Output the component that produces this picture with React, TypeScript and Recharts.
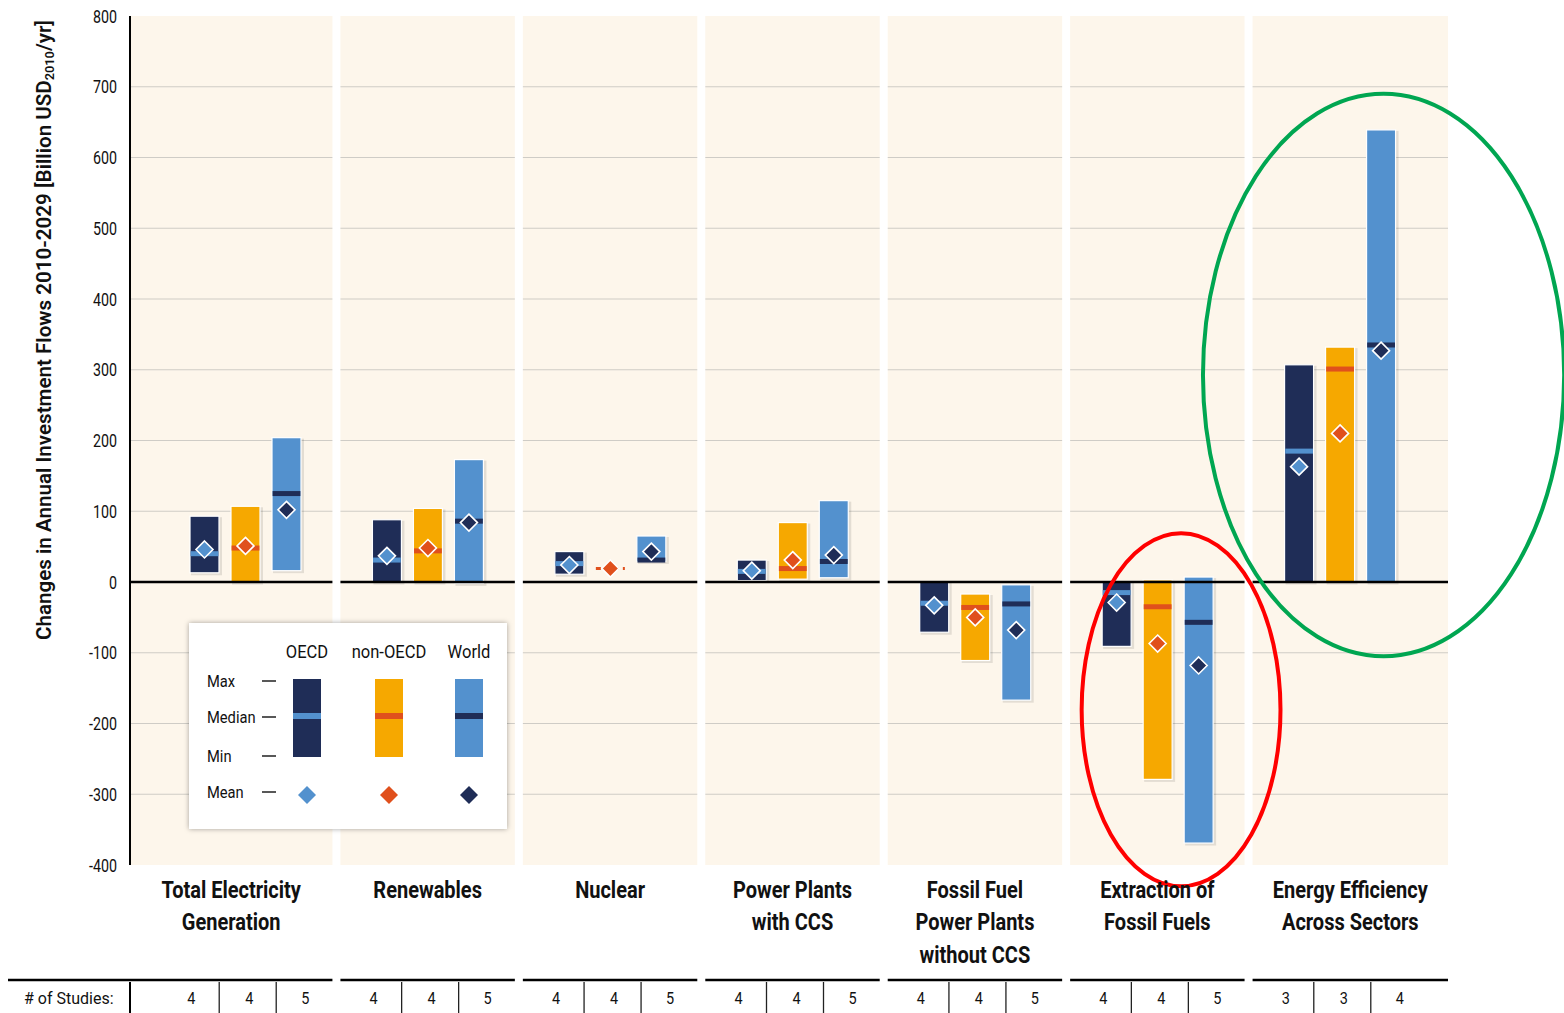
import React from 'react';
import {
  ComposedChart,
  Bar,
  XAxis,
  YAxis,
  CartesianGrid,
  ReferenceLine,
  Legend,
} from 'recharts';

const FONT = "Roboto, 'Noto Sans', 'DejaVu Sans', sans-serif";

// ---- data -------------------------------------------------------------
const categories = [
  'Total Electricity Generation',
  'Renewables',
  'Nuclear',
  'Power Plants with CCS',
  'Fossil Fuel Power Plants without CCS',
  'Extraction of Fossil Fuels',
  'Energy Efficiency Across Sectors',
];
const categoryLines = [
  ['Total Electricity', 'Generation'],
  ['Renewables'],
  ['Nuclear'],
  ['Power Plants', 'with CCS'],
  ['Fossil Fuel', 'Power Plants', 'without CCS'],
  ['Extraction of', 'Fossil Fuels'],
  ['Energy Efficiency', 'Across Sectors'],
];

const oecdMin = [13, 0, 11, 2, -71, -91, 0];
const oecdMax = [93, 88, 43, 31, 0, 0, 307];
const oecdMedian = [40, 31, 26, 15, -30, -15, 185];
const oecdMean = [46, 37, 24, 16, -33, -29, 163];

const nonOecdMin = [0, 0, 19, 4, -111, -279, 0];
const nonOecdMax = [107, 104, 19, 84, -17, 3, 332];
const nonOecdMedian = [48, 44, 19, 19, -36, -35, 301];
const nonOecdMean = [51, 48, 19, 31, -50, -87, 210];

const worldMin = [16, -2, 29, 6, -167, -369, 0];
const worldMax = [204, 173, 65, 115, -4, 7, 639];
const worldMedian = [125, 86, 31, 29, -31, -57, 335];
const worldMean = [102, 84, 43, 38, -68, -118, 327];

const oecdStudies = [4, 4, 4, 4, 4, 4, 3];
const nonOecdStudies = [4, 4, 4, 4, 4, 4, 3];
const worldStudies = [5, 5, 5, 5, 5, 5, 4];

const yTicks = [-400, -300, -200, -100, 0, 100, 200, 300, 400, 500, 600, 700, 800];
const gridValues = [-300, -200, -100, 100, 200, 300, 400, 500, 600, 700];

// highlighted groups: value span of the ring, horizontal shift and radius in band widths
const highlights = [
  { category: categories[5], top: 69, bottom: -430, shift: 0.13, radius: 0.545, color: '#ff0000' },
  { category: categories[6], top: 690, bottom: -105, shift: 0.24, radius: 0.99, color: '#00a651' },
];

// ---- styling ------------------------------------------------------------
const NAVY = '#1f2d57';
const ORANGE = '#f6a800';
const BLUE = '#5391ce';
const RED = '#e0501c';
const CREAM = '#fdf6eb';
const INK = '#111111';

const SERIES = [
  { key: 'oecd', name: 'OECD', fill: NAVY, median: BLUE, mean: BLUE },
  { key: 'nonOecd', name: 'non-OECD', fill: ORANGE, median: RED, mean: RED },
  { key: 'world', name: 'World', fill: BLUE, median: NAVY, mean: NAVY },
];

const rows = categories.map((name, i) => ({
  name,
  oecd: [oecdMin[i], oecdMax[i]],
  nonOecd: [nonOecdMin[i], nonOecdMax[i]],
  world: [worldMin[i], worldMax[i]],
  oecdStats: { min: oecdMin[i], max: oecdMax[i], median: oecdMedian[i], mean: oecdMean[i] },
  nonOecdStats: { min: nonOecdMin[i], max: nonOecdMax[i], median: nonOecdMedian[i], mean: nonOecdMean[i] },
  worldStats: { min: worldMin[i], max: worldMax[i], median: worldMedian[i], mean: worldMean[i] },
}));

// ---- layout -------------------------------------------------------------
const CHART_W = 1564;
const CHART_H = 1013;
const MARGIN = { top: 16, right: 116, bottom: 0, left: 0 };
const Y_AXIS_W = 130;
const X_AXIS_H = 148;
const PAD = { left: 24, right: 17 };
const PLOT_LEFT = MARGIN.left + Y_AXIS_W;
const PLOT_RIGHT = CHART_W - MARGIN.right;
const BAND = (PLOT_RIGHT - PLOT_LEFT - PAD.left - PAD.right) / categories.length;
const PANEL_GAP = 8;
const STUDY_OFFSETS = [-54, 4, 60];
const STUDY_DIVIDERS = [-26, 31];

// horizontally condensed text (the figure uses a condensed face)
const squeeze = (x: number, s: number) => `matrix(${s},0,0,1,${x * (1 - s)},0)`;

const diamond = (cx: number, cy: number, h: number) =>
  `M${cx},${cy - h} L${cx + h},${cy} L${cx},${cy + h} L${cx - h},${cy} Z`;

// Box: min..max bar, median stripe and mean diamond
function RangeBox(props: any) {
  const { x, y, width, height, payload, series } = props;
  const st = payload[`${series.key}Stats`];
  const flat = st.max === st.min || !height;
  const toY = (v: number) => (flat ? y : y + ((st.max - v) / (st.max - st.min)) * height);
  const cx = x + width / 2;
  const yMed = toY(st.median);
  const yMean = toY(st.mean);
  return (
    <g>
      {flat ? (
        <line x1={x} x2={x + width} y1={y} y2={y} stroke={series.median} strokeWidth={3} strokeDasharray="5 4" />
      ) : (
        <>
          <rect x={x + 1} y={y + 1} width={width + 2} height={height + 1.5} fill="rgba(0,0,0,0.10)" />
          <rect x={x} y={y} width={width} height={height} fill={series.fill} stroke="#ffffff" strokeWidth={1.2} />
          <rect x={x + 0.6} y={yMed - 2.5} width={width - 1.2} height={5} fill={series.median} />
        </>
      )}
      <path d={diamond(cx, yMean, 8.5)} fill={series.mean} stroke="#ffffff" strokeWidth={1.6} />
    </g>
  );
}

// Category labels plus the "# of Studies" row beneath each panel
function CategoryTick(props: any) {
  const { x, y, payload } = props;
  const i = typeof props.index === 'number' ? props.index : payload.index;
  const last = categories.length - 1;
  const left = i === 0 ? PLOT_LEFT : x - BAND / 2 + PANEL_GAP / 2;
  const right = i === last ? PLOT_RIGHT : x + BAND / 2 - PANEL_GAP / 2;
  const mid = (left + right) / 2;
  const lines = categoryLines[i] || [];
  const ruleY = y + 115;
  const counts = [oecdStudies[i], nonOecdStudies[i], worldStudies[i]];
  return (
    <g>
      {lines.map((ln, k) => (
        <text
          key={k}
          x={mid}
          y={y + 33 + k * 32.5}
          transform={squeeze(mid, 0.87)}
          textAnchor="middle"
          fontFamily={FONT}
          fontWeight={700}
          fontSize={23}
          fill={INK}
        >
          {ln}
        </text>
      ))}
      <line x1={i === 0 ? 8 : left} x2={right} y1={ruleY} y2={ruleY} stroke="#000" strokeWidth={2.6} />
      {i === 0 && (
        <>
          <text x={24} y={y + 139} fontFamily={FONT} fontSize={16} fill={INK}>
            # of Studies:
          </text>
          <line x1={PLOT_LEFT} x2={PLOT_LEFT} y1={ruleY + 2} y2={CHART_H} stroke="#000" strokeWidth={2} />
        </>
      )}
      {STUDY_DIVIDERS.map((d, k) => (
        <line key={k} x1={x + d} x2={x + d} y1={ruleY + 2} y2={CHART_H} stroke="#222" strokeWidth={1.3} />
      ))}
      {counts.map((c, k) => (
        <text
          key={k}
          x={x + STUDY_OFFSETS[k]}
          y={y + 139}
          transform={squeeze(x + STUDY_OFFSETS[k], 0.85)}
          textAnchor="middle"
          fontFamily={FONT}
          fontSize={17}
          fill={INK}
        >
          {c}
        </text>
      ))}
    </g>
  );
}

function ValueTick(props: any) {
  const { x, y, payload } = props;
  return (
    <text x={x} y={y} dy="0.355em" transform={squeeze(x, 0.75)} textAnchor="end" fontFamily={FONT} fontSize={19} fill={INK}>
      {payload.value}
    </text>
  );
}

function YTitle() {
  return (
    <text
      x={44}
      y={330}
      transform="rotate(-90 44 330)"
      textAnchor="middle"
      dominantBaseline="central"
      textLength={620}
      lengthAdjust="spacingAndGlyphs"
      fontFamily={FONT}
      fontWeight={600}
      fontSize={21}
      fill={INK}
    >
      Changes in Annual Investment Flows 2010-2029 [Billion USD
      <tspan fontSize={13} dy={5}>2010</tspan>
      <tspan dy={-5}>/yr]</tspan>
    </text>
  );
}

function LegendBox() {
  const cols = [118, 200, 280];
  const rowsY = [58, 94, 133, 169];
  const rowNames = ['Max', 'Median', 'Min', 'Mean'];
  return (
    <div style={{ width: 318, height: 206, background: '#fff', boxShadow: '0 0 5px rgba(0,0,0,0.35)' }}>
      <svg width={318} height={206} style={{ display: 'block' }}>
        {SERIES.map((s, k) => (
          <g key={s.key}>
            <text x={cols[k]} y={35} transform={squeeze(cols[k], 0.92)} textAnchor="middle" fontFamily={FONT} fontSize={18} fill={INK}>
              {s.name}
            </text>
            <rect x={cols[k] - 14} y={56} width={28} height={78} fill={s.fill} />
            <rect x={cols[k] - 14} y={90} width={28} height={6} fill={s.median} />
            <path d={diamond(cols[k], 172, 9)} fill={s.mean} />
          </g>
        ))}
        {rowNames.map((r, k) => (
          <g key={r}>
            <text x={18} y={rowsY[k] + 6} transform={squeeze(18, 0.92)} fontFamily={FONT} fontSize={16} fill={INK}>
              {r}
            </text>
            <line x1={73} x2={87} y1={rowsY[k]} y2={rowsY[k]} stroke={INK} strokeWidth={1.4} />
          </g>
        ))}
      </svg>
    </div>
  );
}

export default function App() {
  return (
    <div style={{ position: 'absolute', left: 0, top: 0, width: CHART_W, height: CHART_H, background: '#fff' }}>
      <ComposedChart
        width={CHART_W}
        height={CHART_H}
        data={rows}
        margin={MARGIN}
        barSize={29}
        barGap={12}
      >
        <CartesianGrid
          vertical={false}
          horizontalValues={gridValues}
          stroke="#cfccc6"
          strokeWidth={1.2}
          fill={CREAM}
          fillOpacity={1}
        />
        <XAxis
          dataKey="name"
          type="category"
          interval={0}
          height={X_AXIS_H}
          padding={PAD}
          axisLine={false}
          tickLine={false}
          tickSize={0}
          tickMargin={0}
          tick={(p: any) => <CategoryTick {...p} />}
        />
        <YAxis
          type="number"
          domain={[-400, 800]}
          ticks={yTicks}
          interval={0}
          width={Y_AXIS_W}
          axisLine={{ stroke: '#000', strokeWidth: 2 }}
          tickLine={false}
          tickSize={0}
          tickMargin={13}
          tick={(p: any) => <ValueTick {...p} />}
          label={{ content: () => <YTitle /> }}
        />
        {SERIES.map((s) => (
          <Bar
            key={s.key}
            dataKey={s.key}
            name={s.name}
            fill={s.fill}
            isAnimationActive={false}
            shape={(p: any) => <RangeBox {...p} series={s} />}
          />
        ))}
        <ReferenceLine y={0} stroke="#000" strokeWidth={2.6} />
        {categories.slice(1).map((c) => (
          <ReferenceLine key={c} x={c} position="start" stroke="#ffffff" strokeWidth={PANEL_GAP} />
        ))}
        {highlights.map((h) => (
          <ReferenceLine
            key={h.category}
            segment={[
              { x: h.category, y: h.top },
              { x: h.category, y: h.bottom },
            ]}
            ifOverflow="visible"
            shape={(p: any) => {
              const top = Math.min(p.y1, p.y2);
              const bottom = Math.max(p.y1, p.y2);
              return (
                <ellipse
                  cx={p.x1 + BAND * h.shift}
                  cy={(top + bottom) / 2}
                  rx={BAND * h.radius}
                  ry={(bottom - top) / 2}
                  fill="none"
                  stroke={h.color}
                  strokeWidth={4}
                />
              );
            }}
          />
        ))}
        <Legend
          layout="horizontal"
          verticalAlign="middle"
          align="center"
          content={() => <LegendBox />}
          wrapperStyle={{ position: 'absolute', left: 189, top: 623, width: 318, height: 206 }}
        />
      </ComposedChart>
    </div>
  );
}
